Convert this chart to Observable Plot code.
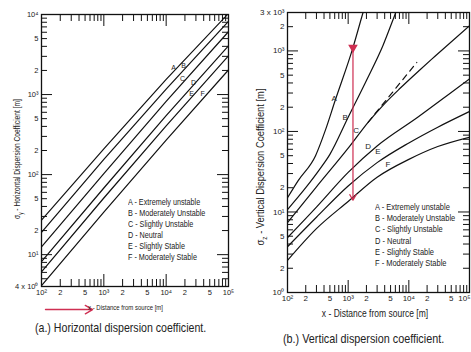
<!DOCTYPE html>
<html><head><meta charset="utf-8">
<script src="https://cdn.jsdelivr.net/npm/d3@7"></script>
<script src="https://cdn.jsdelivr.net/npm/@observablehq/plot@0.6"></script>
<style>
body{margin:0;background:#fff;}
#wrap{position:relative;width:471px;height:352px;overflow:hidden;background:#fff;
 font-family:"Liberation Sans",Arial,sans-serif;color:#222;}
.t{position:absolute;white-space:nowrap;line-height:1;}
</style></head><body><div id="wrap"></div>
<script>
// ---------- data ----------
const classes = ["A","B","C","D","E","F"];
const legendText = ["A - Extremely unstable","B - Moderately Unstable","C - Slightly Unstable",
                    "D - Neutral","E - Slightly Stable","F - Moderately Stable"];

// (a) horizontal sigma_y [m] vs distance [m]
const syDistance = [100, 1000, 10000, 100000];
const syA = [27, 210, 1550, 10300];
const syB = [19, 155, 1170, 8200];
const syC = [12.5, 103, 820, 6100];
const syD = [8.2, 68, 545, 4070];
const syE = [6.1, 51, 405, 3050];
const syF = [4.1, 34, 270, 2030];
const syLabelX = [13150, 19000, 18300, 27500, 25600, 38400];
const syLabelY = [2175, 2300, 1585, 1413, 1029, 1029];

// (b) vertical sigma_z [m] vs distance [m]
const szAx = [100, 150, 290, 420, 610, 1200, 1760, 2100];
const szA  = [15, 24.5, 50, 103, 242, 1100, 3000, 4700];
const szBx = [100, 200, 350, 500, 1000, 2000, 3750, 6100, 7000];
const szB  = [10.7, 20, 35, 52, 150, 430, 1170, 3000, 3900];
const szCx = [100, 300, 1000, 2130, 4000, 7100, 15000, 26700, 100000];
const szC  = [7.4, 20.5, 62, 130, 222, 341, 576, 852, 2060];
const szDx = [100, 300, 1000, 3000, 14000, 50000, 100000];
const szD  = [4.8, 11.5, 31, 66, 150, 305, 450];
const szEx = [100, 300, 1000, 3000, 10000, 30000, 100000];
const szE  = [3.7, 8.6, 21, 41, 72, 113, 177];
const szFx = [100, 300, 1000, 3000, 10000, 30000, 100000];
const szF  = [2.5, 6.2, 13.5, 27, 45, 65, 85];
const szCdashX = [2130, 13500];
const szCdash  = [130, 718];
const szLabelX = [589, 893, 1352, 2128, 3105, 4529];
const szLabelY = [256, 149, 103, 65, 56, 38.8];

// red annotations
const redMarkX = [1200], redMarkTop = [1100], redMarkBottom = [14];
const redArrowLeftX = [116, 660], redArrowLeftY = [2.06];

// tick labels
const xTickVals = [100,200,500,1000,2000,5000,10000,20000,50000,100000];
const xTickText = ["10²","2","5","10³","2","5","10⁴","2","5","10⁵"];
const syTickVals = [4,10,20,50,100,200,500,1000,2000,5000,10000];
const syTickText = ["4 x 10⁰","10¹","2","5","10²","2","5","10³","2","5","10⁴"];
const szTickVals = [1,2,5,10,20,50,100,200,500,1000,2000,3000];
const szTickText = ["10⁰","2","5","10¹","2","5","10²","2","5","10³","2","3 x 10³"];

// ---------- helpers ----------
const FONT = '"Liberation Sans",Arial,sans-serif';
function logTicks(lo, hi, major) {
  const out = [];
  for (let e = Math.floor(Math.log10(lo)); e <= Math.ceil(Math.log10(hi)); e++)
    for (let m = 1; m < 10; m++) {
      const v = m * Math.pow(10, e);
      if (v >= lo * 0.999 && v <= hi * 1.001 && ((m === 1) === major)) out.push(v);
    }
  return out;
}
function rows(xs, ys, cls) { return xs.map((x, i) => ({cls, x, s: ys[i]})); }
function frameTicks(xd, yd, fw, fh, minor, major) {
  const xMi = logTicks(xd[0], xd[1], false), xMa = logTicks(xd[0], xd[1], true);
  const yMi = logTicks(yd[0], yd[1], false), yMa = logTicks(yd[0], yd[1], true);
  const st = {stroke: "#111", strokeWidth: 1};
  return [
    Plot.ruleX(xMi, {...st, insetTop: fh - minor}),
    Plot.ruleX(xMa, {...st, insetTop: fh - major}),
    Plot.ruleX(xMi, {...st, insetBottom: fh - minor}),
    Plot.ruleX(xMa, {...st, insetBottom: fh - major}),
    Plot.ruleY(yMi, {...st, insetRight: fw - minor + 1}),
    Plot.ruleY(yMa, {...st, insetRight: fw - major + 1}),
    Plot.ruleY(yMi, {...st, insetLeft: fw - minor + 1}),
    Plot.ruleY(yMa, {...st, insetLeft: fw - major + 1})
  ];
}
function tickLabels(yVals, yText, size, lastEnd) {
  const n = xTickVals.length;
  const xs = lastEnd ? xTickVals.slice(0, n - 1) : xTickVals;
  const marks = [
    Plot.text(xs, {x: d => d, text: (d, i) => xTickText[i], frameAnchor: "bottom",
      lineAnchor: "top", dy: 3, fontSize: size, fill: "#222"}),
    Plot.text(yVals, {y: d => d, text: (d, i) => yText[i], frameAnchor: "left",
      textAnchor: "end", dx: -3, fontSize: size, fill: "#222"})
  ];
  if (lastEnd) marks.push(Plot.text([xTickVals[n - 1]], {x: d => d, text: () => xTickText[n - 1],
      frameAnchor: "bottom", lineAnchor: "top", textAnchor: "end", dy: 3, dx: 1, fontSize: size, fill: "#222"}));
  return marks;
}
const wrap = document.getElementById("wrap");
function addText(html, x, y, css) {
  const d = document.createElement("div");
  d.className = "t";
  d.innerHTML = html;
  d.style.left = x + "px"; d.style.top = y + "px";
  Object.assign(d.style, css || {});
  wrap.appendChild(d);
  return d;
}

// ---------- (a) horizontal ----------
{
  const W = 235, H = 352, mL = 41, mR = 7, mT = 14, mB = 66;
  const xd = [100, 100000], yd = [4, 10000];
  const data = [syA, syB, syC, syD, syE, syF].flatMap((s, k) => rows(syDistance, s, classes[k]));
  const labels = classes.map((c, i) => ({c, x: syLabelX[i], y: syLabelY[i]}));
  const svg = Plot.plot({
    width: W, height: H, marginLeft: mL, marginRight: mR, marginTop: mT, marginBottom: mB,
    x: {type: "log", domain: xd, axis: null}, y: {type: "log", domain: yd, axis: null},
    style: {fontFamily: FONT, fontSize: "7.5px", color: "#222", background: "transparent", overflow: "visible"},
    marks: [
      ...frameTicks(xd, yd, W - mL - mR, H - mT - mB, 7, 12),
      Plot.frame({stroke: "#111", strokeWidth: 1.3}),
      ...tickLabels(syTickVals, syTickText, 7.5, false),
      Plot.line(data, {x: "x", y: "s", z: "cls", stroke: "#111", strokeWidth: 1.2, clip: true}),
      Plot.text(labels, {x: "x", y: "y", text: "c", fontSize: 7, fill: "#222"}),
      Plot.arrow([0], {x1: () => redArrowLeftX[0], x2: () => redArrowLeftX[1],
        y1: () => redArrowLeftY[0], y2: () => redArrowLeftY[0],
        stroke: "#cf2f52", strokeWidth: 1.4, headLength: 9})
    ]
  });
  svg.style.position = "absolute"; svg.style.left = "0px"; svg.style.top = "0px";
  wrap.appendChild(svg);

  addText("σ<sub style='font-size:70%'>y</sub> - Horizontal Dispersion Coefficient [m]", 19, 159,
    {fontSize: "9px", transformOrigin: "center center", transform: "translate(-50%,-50%) rotate(-90deg) scaleX(0.74)"});
  legendText.forEach((s, i) => addText(s, 128, 198 + i * 11,
    {fontSize: "8.8px", transformOrigin: "left center", transform: "scaleX(0.82)"}));
  addText("x - Distance from source [m]", 88, 304,
    {fontSize: "7.5px", transformOrigin: "left center", transform: "scaleX(0.8)"});
  addText("(a.) Horizontal dispersion coefficient.", 35, 321,
    {fontSize: "13px", transformOrigin: "left center", transform: "scaleX(0.815)"});
}

// ---------- (b) vertical ----------
{
  const W = 236, H = 352, mL = 52, mR = 2, mT = 12, mB = 60;
  const xd = [100, 100000], yd = [1, 3000];
  const data = [
    ...rows(szAx, szA, "A"), ...rows(szBx, szB, "B"), ...rows(szCx, szC, "C"),
    ...rows(szDx, szD, "D"), ...rows(szEx, szE, "E"), ...rows(szFx, szF, "F")
  ];
  const dash = rows(szCdashX, szCdash, "C");
  const labels = classes.map((c, i) => ({c, x: szLabelX[i], y: szLabelY[i]}));
  const red = "#cf2f52";
  const svg = Plot.plot({
    width: W, height: H, marginLeft: mL, marginRight: mR, marginTop: mT, marginBottom: mB,
    x: {type: "log", domain: xd, axis: null}, y: {type: "log", domain: yd, axis: null},
    style: {fontFamily: FONT, fontSize: "8px", color: "#222", background: "transparent", overflow: "visible"},
    marks: [
      ...frameTicks(xd, yd, W - mL - mR, H - mT - mB, 7, 12),
      Plot.frame({stroke: "#111", strokeWidth: 1.3}),
      ...tickLabels(szTickVals, szTickText, 8, true),
      Plot.line(data, {x: "x", y: "s", z: "cls", stroke: "#111", strokeWidth: 1.2, curve: "monotone-x", clip: true}),
      Plot.line(dash, {x: "x", y: "s", stroke: "#111", strokeWidth: 1.2, strokeDasharray: "6,5"}),
      Plot.text(labels, {x: "x", y: "y", text: "c", fontSize: 8, fill: "#222"}),
      Plot.arrow(redMarkX, {x: d => d, y1: () => redMarkTop[0], y2: () => redMarkBottom[0],
        stroke: red, strokeWidth: 1.2, headLength: 8}),
      Plot.dot(redMarkX, {x: d => d, y: () => redMarkTop[0], symbol: "triangle", rotate: 180,
        r: 2.6, fill: red, stroke: red})
    ]
  });
  svg.style.position = "absolute"; svg.style.left = "235px"; svg.style.top = "0px";
  wrap.appendChild(svg);

  addText("σ<sub style='font-size:70%'>z</sub> - Vertical Dispersion Coefficient [m]", 262, 167,
    {fontSize: "11px", transformOrigin: "center center", transform: "translate(-50%,-50%) rotate(-90deg) scaleX(0.85)"});
  legendText.forEach((s, i) => addText(s, 375, 203 + i * 11.2,
    {fontSize: "8.8px", transformOrigin: "left center", transform: "scaleX(0.85)"}));
  addText("x - Distance from source [m]", 375, 314,
    {fontSize: "10px", transformOrigin: "center center", transform: "translate(-50%,-50%) scaleX(0.85)"});
  addText("(b.) Vertical dispersion coefficient.", 283, 332,
    {fontSize: "13px", transformOrigin: "left center", transform: "scaleX(0.83)"});
}
</script></body></html>
